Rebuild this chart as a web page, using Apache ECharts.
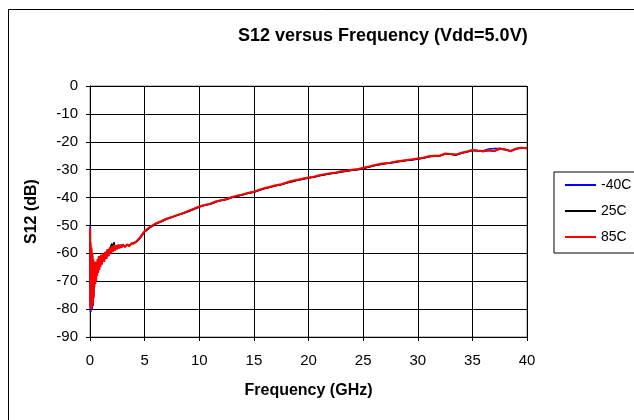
<!DOCTYPE html>
<html>
<head>
<meta charset="utf-8">
<script src="https://cdn.jsdelivr.net/npm/echarts@6/dist/echarts.min.js"></script>
<style>
  html, body { margin: 0; padding: 0; background: #fff; }
  #chart { width: 634px; height: 420px; }
</style>
</head>
<body>
<div id="chart"></div>
<script>
// frequency points (GHz)
const freq = [0.02,0.04,0.06,0.08,0.1,0.12,0.14,0.16,0.18,0.2,0.22,0.24,0.26,0.28,0.3,
  0.33,0.36,
  0.4,0.44,0.48,0.52,0.56,0.6,
  0.65,0.7,0.75,0.8,0.85,0.9,0.95,1.0,
  1.1,1.2,1.3,1.4,1.5,1.6,1.7,1.8,1.9,2.0,2.1,2.2,2.3,2.4,2.5,2.6,2.7,2.8,2.9,3.0,
  3.2,3.4,3.6,3.8,4.0,
  4.3,4.6,
  5,5.5,6,6.5,7,7.5,8,8.5,9,9.5,
  10,10.5,11,11.5,12,12.5,13,13.5,14,14.5,
  15,15.5,16,16.5,17,17.5,18,18.5,19,19.5,
  20,20.5,21,21.5,22,22.5,23,23.5,24,24.5,
  25,25.5,26,26.5,27,27.5,28,28.5,29,29.5,
  30,30.5,31,31.5,32,32.5,33,33.5,34,34.5,
  35,35.5,36,36.5,37,37.5,38,38.5,39,39.5,40];

// S12 (dB) per temperature
const sMinus40 = [-50,-81,-59,-81,-60,-80,-60,-79,-62,-80,-61,-78,-63,-79,-62,
  -76,-64,
  -72,-63,-71,-64,-70,-63,
  -68,-62,-67,-61.5,-66,-61,-65,-60.8,
  -64,-60.5,-63,-59.5,-62,-59,-61,-58.3,-60,-57.8,-59.5,-57.3,-59,-57.5,-58.5,-57,-58.2,-57.2,-57.8,-57,
  -57.6,-57,-57.3,-56.5,-56.4,
  -55.6,-54.3,
  -52.1,-50.6,-49.4,-48.6,-47.7,-47,-46.3,-45.6,-44.9,-44.1,
  -43.3,-42.7,-42.3,-41.5,-41,-40.6,-39.9,-39.4,-38.9,-38.4,
  -38,-37.3,-36.7,-36.2,-35.7,-35.3,-34.7,-34.2,-33.7,-33.3,
  -32.9,-32.6,-32.1,-31.7,-31.4,-31.1,-30.7,-30.5,-30.1,-29.9,
  -29.5,-29,-28.5,-28.1,-27.8,-27.5,-27.2,-26.9,-26.6,-26.4,
  -26.1,-25.8,-25.3,-25.1,-25,-24.3,-24.4,-24.7,-24,-23.6,
  -23,-23.1,-23.2,-22.6,-22.4,-22.4,-22.7,-23.2,-22.4,-22.1,-22.2];

const s25 = [-52,-79,-57,-80,-61,-78,-59,-79,-63,-78,-61,-78,-64,-77,-63,
  -75,-65,
  -71,-64,-70,-65,-69,-64,
  -67,-63,-66,-62,-65,-62,-64,-61,
  -63,-60.5,-62,-60,-61,-59,-60,-58.5,-59,-56.5,-58,-56,-58.5,-57.5,-58,-57.2,-57.8,-57.2,-57.6,-57,
  -57.5,-57,-57.2,-56.6,-56.2,
  -55.8,-54.5,
  -52.3,-50.8,-49.5,-48.7,-47.8,-47.1,-46.4,-45.7,-45,-44.2,
  -43.4,-42.8,-42.4,-41.6,-41.1,-40.7,-40,-39.5,-39,-38.5,
  -38.1,-37.4,-36.8,-36.3,-35.8,-35.4,-34.8,-34.3,-33.8,-33.4,
  -33,-32.7,-32.2,-31.8,-31.5,-31.2,-30.8,-30.6,-30.2,-30,
  -29.7,-29.1,-28.6,-28.2,-27.9,-27.6,-27.3,-27,-26.7,-26.5,
  -26.2,-25.9,-25.4,-25.2,-25.1,-24.4,-24.5,-24.8,-24.1,-23.7,
  -23.1,-23.3,-23.5,-23.1,-23.4,-22.6,-22.9,-23.3,-22.6,-22.2,-22.4];

const s85 = [-51,-80,-56,-79,-60,-80,-58,-78,-62,-79,-60,-77,-63,-78,-62,
  -76,-64,
  -72,-63,-71,-64,-70,-63,
  -68,-62,-67,-61,-66,-61,-65,-60.5,
  -64,-60,-63,-59.5,-62,-58.5,-61,-58,-60,-57.5,-59.5,-57,-59,-57.2,-58.5,-56.8,-58.2,-57,-58,-56.8,
  -57.8,-56.8,-57.4,-56.4,-56.6,
  -55.5,-54.2,
  -52,-50.5,-49.3,-48.5,-47.6,-47,-46.2,-45.6,-44.8,-44,
  -43.2,-42.7,-42.2,-41.4,-41,-40.5,-39.8,-39.3,-38.9,-38.3,
  -37.9,-37.2,-36.6,-36.1,-35.6,-35.2,-34.6,-34,-33.6,-33.2,
  -32.8,-32.5,-32,-31.6,-31.3,-31,-30.6,-30.4,-30,-29.8,
  -29.3,-28.9,-28.4,-28,-27.7,-27.5,-27.1,-26.8,-26.5,-26.3,
  -26,-25.7,-25.2,-25,-25,-24.2,-24.4,-24.6,-23.9,-23.5,
  -22.9,-23.2,-23.4,-23,-23.3,-22.4,-22.8,-23.4,-22.5,-22.1,-22.3];

const seriesNames = ['-40C', '25C', '85C'];
const seriesColors = ['#0000ff', '#000000', '#ff0000'];

const FONT = '"Liberation Sans", Arial, sans-serif';
const pair = (ys) => freq.map((f, i) => [f, ys[i]]);

const chart = echarts.init(document.getElementById('chart'));
chart.setOption({
  animation: false,
  backgroundColor: '#fff',
  textStyle: { fontFamily: FONT, color: '#000' },
  title: {
    text: 'S12 versus Frequency (Vdd=5.0V)',
    left: 233, top: 22,
    textStyle: { fontFamily: FONT, fontSize: 18, fontWeight: 'bold', color: '#000' }
  },
  legend: {
    data: seriesNames,
    orient: 'vertical',
    left: 554, top: 172,
    icon: 'rect',
    itemWidth: 31, itemHeight: 2,
    itemGap: 12,
    padding: [6, 30, 9, 11],
    borderColor: '#000', borderWidth: 1, borderRadius: 0,
    textStyle: { fontFamily: FONT, fontSize: 14, color: '#000' }
  },
  graphic: [{
    type: 'rect', silent: true, z: -10,
    shape: { x: 8.5, y: 9.5, width: 700, height: 500 },
    style: { fill: 'none', stroke: '#000', lineWidth: 1 }
  }],
  grid: { left: 90, right: 107, top: 86, bottom: 83, show: true, borderColor: '#808080', borderWidth: 1, backgroundColor: 'transparent' },
  xAxis: {
    type: 'value', min: 0, max: 40, interval: 5,
    name: 'Frequency (GHz)', nameLocation: 'middle', nameGap: 46,
    nameTextStyle: { fontFamily: FONT, fontSize: 16, fontWeight: 'bold', color: '#000' },
    axisLine: { onZero: false, lineStyle: { color: '#000', width: 1 } },
    axisTick: { show: true, length: 4, lineStyle: { color: '#000' } },
    axisLabel: { fontFamily: FONT, fontSize: 15, color: '#000', margin: 16 },
    splitLine: { show: true, lineStyle: { color: '#000', width: 1 } }
  },
  yAxis: {
    type: 'value', min: -90, max: 0, interval: 10,
    name: 'S12 (dB)', nameLocation: 'middle', nameGap: 50, nameRotate: 90,
    nameTextStyle: { fontFamily: FONT, fontSize: 16, fontWeight: 'bold', color: '#000' },
    axisLine: { show: true, onZero: false, lineStyle: { color: '#000', width: 1 } },
    axisTick: { show: true, length: 4, lineStyle: { color: '#000' } },
    axisLabel: { fontFamily: FONT, fontSize: 15, color: '#000', margin: 12 },
    splitLine: { show: true, lineStyle: { color: '#000', width: 1 } }
  },
  series: [
    { name: seriesNames[0], type: 'line', data: pair(sMinus40), showSymbol: false, color: seriesColors[0], lineStyle: { width: 1.5, color: seriesColors[0] }, z: 2 },
    { name: seriesNames[1], type: 'line', data: pair(s25), showSymbol: false, color: seriesColors[1], lineStyle: { width: 1.5, color: seriesColors[1] }, z: 3 },
    { name: seriesNames[2], type: 'line', data: pair(s85), showSymbol: false, color: seriesColors[2], lineStyle: { width: 2, color: seriesColors[2] }, z: 4 }
  ]
});
</script>
</body>
</html>
